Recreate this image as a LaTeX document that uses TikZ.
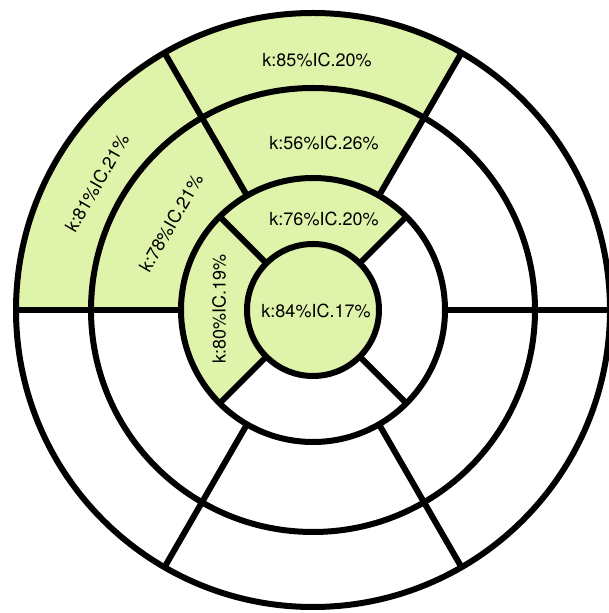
\documentclass[tikz,border=0pt]{standalone}
\usepackage{fontspec}
\setmainfont{TeX Gyre Heros}
\definecolor{segGreen}{RGB}{224,243,170}
\tikzset{
  ring/.style={draw=black, line width=6pt},
  segfill/.style={fill=segGreen},
  seglabel/.style={font=\fontsize{18}{20}\selectfont, inner sep=1pt}
}
\begin{document}
\begin{tikzpicture}[x=1pt, y=1pt]
  \useasboundingbox (0,0) rectangle (609,613);
  \begin{scope}[shift={(313,303)}]
    % Fill the shaded segments of the basal and mid rings.
    \fill[segfill] (60:222) arc[start angle=60, end angle=120, radius=222] -- (120:297) arc[start angle=120, end angle=60, radius=297] -- cycle;
    \fill[segfill] (120:222) arc[start angle=120, end angle=180, radius=222] -- (180:297) arc[start angle=180, end angle=120, radius=297] -- cycle;
    \fill[segfill] (60:132) arc[start angle=60, end angle=120, radius=132] -- (120:222) arc[start angle=120, end angle=60, radius=222] -- cycle;
    \fill[segfill] (120:132) arc[start angle=120, end angle=180, radius=132] -- (180:222) arc[start angle=180, end angle=120, radius=222] -- cycle;
    % Fill the shaded segments of the apical ring and the apex.
    \fill[segfill] (45:66) arc[start angle=45, end angle=135, radius=66] -- (135:132) arc[start angle=135, end angle=45, radius=132] -- cycle;
    \fill[segfill] (135:66) arc[start angle=135, end angle=225, radius=66] -- (225:132) arc[start angle=225, end angle=135, radius=132] -- cycle;
    \fill[segfill] (0,0) circle[radius=66];
    % Draw the rings.
    \foreach \r in {66,132,222,297}
      \draw[ring] (0,0) circle[radius=\r];
    % Draw the segment borders.
    \foreach \a in {0,60,...,300}
      \draw[ring] (\a:132) -- (\a:297);
    \foreach \a in {45,135,225,315}
      \draw[ring] (\a:66) -- (\a:132);
    % Put the values into the segments.
    \node[seglabel] (basalAnt) at (4,250) {k:85\%IC.20\%};
    \node[seglabel, rotate=60] (basalAntSep) at (-216,127) {k:81\%IC.21\%};
    \node[seglabel] (midAnt) at (11,167) {k:56\%IC.26\%};
    \node[seglabel, rotate=60] (midAntSep) at (-142,87) {k:78\%IC.21\%};
    \node[seglabel] (apicalAnt) at (11,91) {k:76\%IC.20\%};
    \node[seglabel, rotate=90] (apicalSep) at (-94,1) {k:80\%IC.19\%};
    \node[seglabel] (apex) at (3,-1) {k:84\%IC.17\%};
  \end{scope}
\end{tikzpicture}
\end{document}
